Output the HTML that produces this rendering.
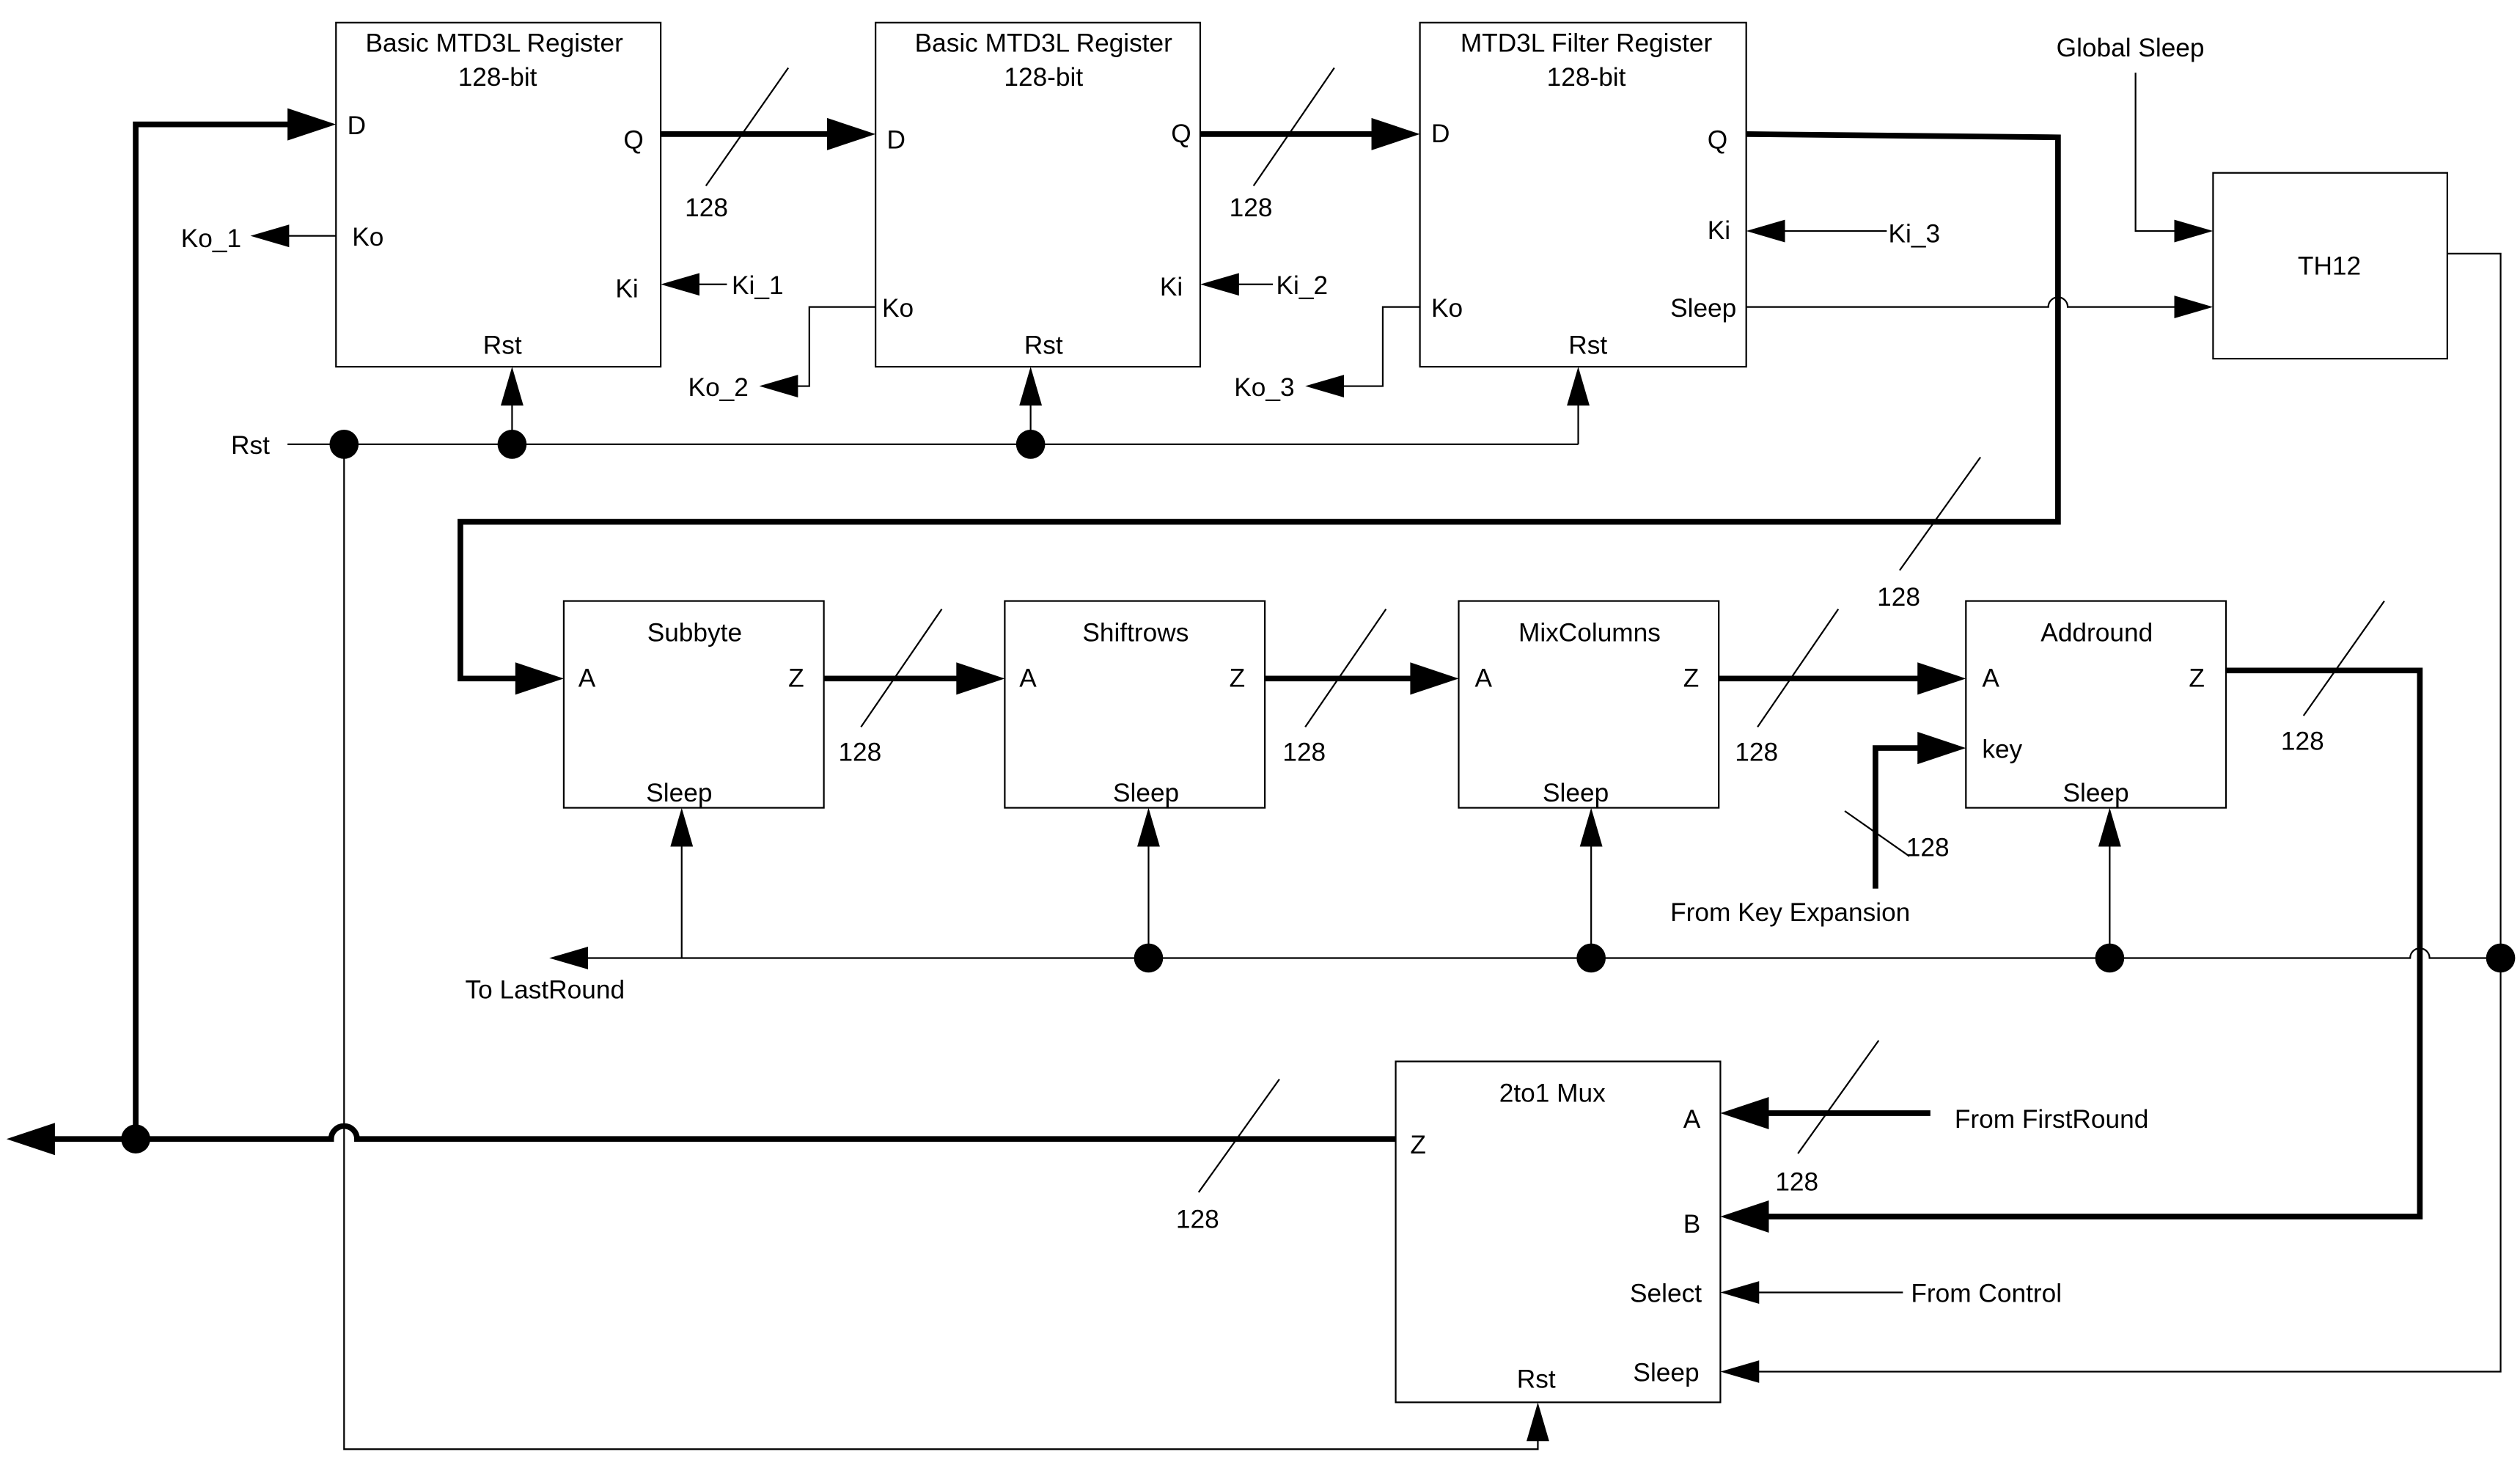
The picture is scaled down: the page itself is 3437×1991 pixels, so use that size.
<!DOCTYPE html>
<html><head><meta charset="utf-8"><style>
html,body{margin:0;padding:0;background:#fff;}
svg{display:block;}
text{font-family:"Liberation Sans",Arial,sans-serif;font-size:16px;fill:#000;}
</style></head><body>
<svg width="3437" height="1991" viewBox="0 0 1560 903.7" preserveAspectRatio="none" xmlns="http://www.w3.org/2000/svg">
<g fill="none" stroke="#000" stroke-width="1">
<rect x="208" y="14" width="201" height="213"/>
<rect x="542" y="14" width="201" height="213"/>
<rect x="879" y="14" width="202" height="213"/>
<rect x="1370" y="107" width="145" height="115"/>
<rect x="349" y="372" width="161" height="128"/>
<rect x="622" y="372" width="161" height="128"/>
<rect x="903" y="372" width="161" height="128"/>
<rect x="1217" y="372" width="161" height="128"/>
<rect x="864" y="657" width="201" height="211"/>
</g>
<g fill="none" stroke="#000" stroke-width="3.5">
<polyline points="84,705 84,77 180,77"/>
<path d="M864,705 H221 a8,8 0 0 0 -16,0 H30"/>
<line x1="409" y1="83" x2="514" y2="83"/>
<line x1="743" y1="83" x2="851" y2="83"/>
<polyline points="1081,83 1274,85 1274,323 285,323 285,420 321,420"/>
<line x1="510" y1="420" x2="594" y2="420"/>
<line x1="783" y1="420" x2="875" y2="420"/>
<line x1="1064" y1="420" x2="1189" y2="420"/>
<polyline points="1378,415 1498,415 1498,753 1093,753"/>
<polyline points="1161,550 1161,463 1189,463"/>
<line x1="1195" y1="689" x2="1093" y2="689"/>
</g>
<g fill="none" stroke="#000" stroke-width="1">
<line x1="208" y1="146" x2="175" y2="146"/>
<line x1="450" y1="176" x2="429" y2="176"/>
<polyline points="542,190 501,190 501,239 490,239"/>
<line x1="788" y1="176" x2="763" y2="176"/>
<polyline points="879,190 856,190 856,239 828,239"/>
<line x1="1168" y1="143" x2="1101" y2="143"/>
<path d="M1081,190 H1268 a6,6 0 0 1 12,0 H1350"/>
<polyline points="1322,45 1322,143 1350,143"/>
<polyline points="1515,157 1548,157 1548,849 1085,849"/>
<path d="M1548,593 H1504 a6,6 0 0 0 -12,0 H360"/>
<line x1="422" y1="593" x2="422" y2="520"/>
<line x1="711" y1="593" x2="711" y2="520"/>
<line x1="985" y1="593" x2="985" y2="520"/>
<line x1="1306" y1="593" x2="1306" y2="520"/>
<line x1="178" y1="275" x2="977" y2="275"/>
<line x1="977" y1="275" x2="977" y2="247"/>
<line x1="317" y1="275" x2="317" y2="247"/>
<line x1="638" y1="275" x2="638" y2="247"/>
<polyline points="213,275 213,897 952,897 952,888"/>
<line x1="1178" y1="800" x2="1085" y2="800"/>
<line x1="437" y1="115" x2="488" y2="42"/>
<line x1="776" y1="115" x2="826" y2="42"/>
<line x1="1176" y1="353" x2="1226" y2="283"/>
<line x1="533" y1="450" x2="583" y2="377"/>
<line x1="808" y1="450" x2="858" y2="377"/>
<line x1="1088" y1="450" x2="1138" y2="377"/>
<line x1="1426" y1="443" x2="1476" y2="372"/>
<line x1="1142" y1="502" x2="1182" y2="530"/>
<line x1="1113" y1="714" x2="1163" y2="644"/>
<line x1="742" y1="738" x2="792" y2="668"/>
</g>
<g fill="#000" stroke="none">
<polygon points="208,77 178,67 178,87"/>
<polygon points="542,83 512,73 512,93"/>
<polygon points="879,83 849,73 849,93"/>
<polygon points="349,420 319,410 319,430"/>
<polygon points="622,420 592,410 592,430"/>
<polygon points="903,420 873,410 873,430"/>
<polygon points="1217,420 1187,410 1187,430"/>
<polygon points="1217,463 1187,453 1187,473"/>
<polygon points="1065,689 1095,679 1095,699"/>
<polygon points="1065,753 1095,743 1095,763"/>
<polygon points="4,705 34,695 34,715"/>
<polygon points="155,146 179,139 179,153"/>
<polygon points="409,176 433,169 433,183"/>
<polygon points="470,239 494,232 494,246"/>
<polygon points="743,176 767,169 767,183"/>
<polygon points="808,239 832,232 832,246"/>
<polygon points="1081,143 1105,136 1105,150"/>
<polygon points="1370,190 1346,183 1346,197"/>
<polygon points="1370,143 1346,136 1346,150"/>
<polygon points="1065,849 1089,842 1089,856"/>
<polygon points="1065,800 1089,793 1089,807"/>
<polygon points="340,593 364,586 364,600"/>
<polygon points="422,500 415,524 429,524"/>
<polygon points="711,500 704,524 718,524"/>
<polygon points="985,500 978,524 992,524"/>
<polygon points="1306,500 1299,524 1313,524"/>
<polygon points="317,227 310,251 324,251"/>
<polygon points="638,227 631,251 645,251"/>
<polygon points="977,227 970,251 984,251"/>
<polygon points="952,868 945,892 959,892"/>
<circle cx="84" cy="705" r="9"/>
<circle cx="213" cy="275" r="9"/>
<circle cx="317" cy="275" r="9"/>
<circle cx="638" cy="275" r="9"/>
<circle cx="711" cy="593" r="9"/>
<circle cx="985" cy="593" r="9"/>
<circle cx="1306" cy="593" r="9"/>
<circle cx="1548" cy="593" r="9"/>
</g>
<g>
<text x="306" y="32" text-anchor="middle">Basic MTD3L Register</text>
<text x="308" y="53" text-anchor="middle">128-bit</text>
<text x="646" y="32" text-anchor="middle">Basic MTD3L Register</text>
<text x="646" y="53" text-anchor="middle">128-bit</text>
<text x="982" y="32" text-anchor="middle">MTD3L Filter Register</text>
<text x="982" y="53" text-anchor="middle">128-bit</text>
<text x="215" y="83">D</text><text x="386" y="92">Q</text>
<text x="218" y="152">Ko</text><text x="381" y="184">Ki</text><text x="299" y="219">Rst</text>
<text x="549" y="92">D</text><text x="725" y="88">Q</text>
<text x="546" y="196">Ko</text><text x="718" y="183">Ki</text><text x="634" y="219">Rst</text>
<text x="886" y="88">D</text><text x="1057" y="92">Q</text>
<text x="1057" y="148">Ki</text><text x="886" y="196">Ko</text><text x="1034" y="196">Sleep</text><text x="971" y="219">Rst</text>
<text x="1442" y="170" text-anchor="middle">TH12</text>
<text x="1273" y="35">Global Sleep</text>
<text x="112" y="153">Ko_1</text>
<text x="453" y="182">Ki_1</text>
<text x="426" y="245">Ko_2</text>
<text x="790" y="182">Ki_2</text>
<text x="764" y="245">Ko_3</text>
<text x="1169" y="150">Ki_3</text>
<text x="143" y="281">Rst</text>
<text x="424" y="134">128</text><text x="761" y="134">128</text>
<text x="1162" y="375">128</text>
<text x="519" y="471">128</text><text x="794" y="471">128</text><text x="1074" y="471">128</text>
<text x="1412" y="464">128</text><text x="1180" y="530">128</text>
<text x="1099" y="737">128</text><text x="728" y="760">128</text>
<text x="430" y="397" text-anchor="middle">Subbyte</text>
<text x="703" y="397" text-anchor="middle">Shiftrows</text>
<text x="984" y="397" text-anchor="middle">MixColumns</text>
<text x="1298" y="397" text-anchor="middle">Addround</text>
<text x="358" y="425">A</text><text x="488" y="425">Z</text><text x="400" y="496">Sleep</text>
<text x="631" y="425">A</text><text x="761" y="425">Z</text><text x="689" y="496">Sleep</text>
<text x="913" y="425">A</text><text x="1042" y="425">Z</text><text x="955" y="496">Sleep</text>
<text x="1227" y="425">A</text><text x="1355" y="425">Z</text><text x="1227" y="469">key</text><text x="1277" y="496">Sleep</text>
<text x="1034" y="570">From Key Expansion</text>
<text x="288" y="618">To LastRound</text>
<text x="961" y="682" text-anchor="middle">2to1 Mux</text>
<text x="873" y="714">Z</text><text x="1042" y="698">A</text><text x="1042" y="763">B</text>
<text x="1009" y="806">Select</text><text x="1011" y="855">Sleep</text><text x="939" y="859">Rst</text>
<text x="1210" y="698">From FirstRound</text>
<text x="1183" y="806">From Control</text>
</g>
</svg>
</body></html>
